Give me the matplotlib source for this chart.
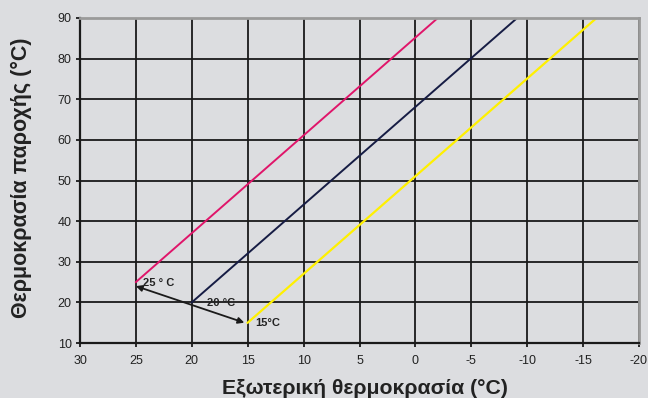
import matplotlib.pyplot as plt

plt.rcParams['font.family'] = ['Liberation Sans', 'DejaVu Sans']
plt.rcParams['axes.unicode_minus'] = False

# heating curves: (outside temp, flow temp)
pink_x = [25, -2]
pink_y = [25, 90]
navy_x = [20, -9.1]
navy_y = [20, 90]
yellow_x = [15, -16.2]
yellow_y = [15, 90]

x_ticks = [30, 25, 20, 15, 10, 5, 0, -5, -10, -15, -20]
y_ticks = [10, 20, 30, 40, 50, 60, 70, 80, 90]

bg = '#dcdde0'
fig = plt.figure(figsize=(6.48, 3.98), dpi=100, facecolor=bg)
ax = fig.add_axes([80 / 648, 55 / 398, 559 / 648, 325 / 398])
ax.set_facecolor(bg)

ax.set_xlim(30, -20)
ax.set_ylim(10, 90)
ax.set_xticks(x_ticks)
ax.set_yticks(y_ticks)
ax.grid(True, color='#1a1a1a', linewidth=1.3)
ax.set_axisbelow(True)

ax.plot(pink_x, pink_y, color='#e0156a', linewidth=1.4)
ax.plot(navy_x, navy_y, color='#161c44', linewidth=1.4)
ax.plot(yellow_x, yellow_y, color='#fff000', linewidth=1.6)

# arrow between the curve start points
ax.annotate('', xy=(25, 24), xytext=(15.3, 15),
            arrowprops=dict(arrowstyle='<|-|>', color='#1a1a1a', lw=1.3,
                            mutation_scale=9, shrinkA=0, shrinkB=0))
ax.text(24.4, 24.8, '25 ° C', fontsize=8, fontweight='bold', color='#222222', va='center')
ax.text(18.6, 19.9, '20 °C', fontsize=8, fontweight='bold', color='#222222', va='center')
ax.text(14.3, 14.8, '15°C', fontsize=8, fontweight='bold', color='#222222', va='center')

for s in ['left', 'bottom']:
    ax.spines[s].set_color('#1a1a1a')
    ax.spines[s].set_linewidth(1.6)
for s in ['top', 'right']:
    ax.spines[s].set_color('#9a9a9a')
    ax.spines[s].set_linewidth(2)

ax.tick_params(axis='both', labelsize=9, colors='#1a1a1a', labelcolor='#222222',
               length=3, width=1.3, direction='out')
ax.tick_params(axis='y', pad=3)
ax.tick_params(axis='x', pad=6)

ax.set_xlabel('Εξωτερική θερμοκρασία (°C)', fontsize=15.3, fontweight='bold',
              color='#222222', labelpad=7)
ax.set_ylabel('Θερμοκρασία παροχής (°C)', fontsize=15.5, fontweight='bold',
              color='#222222')
ax.yaxis.set_label_coords(-0.085, 0.51)
ax.xaxis.set_label_coords(0.51, -0.11)

fig.savefig('out.png', dpi=100, facecolor=bg)
